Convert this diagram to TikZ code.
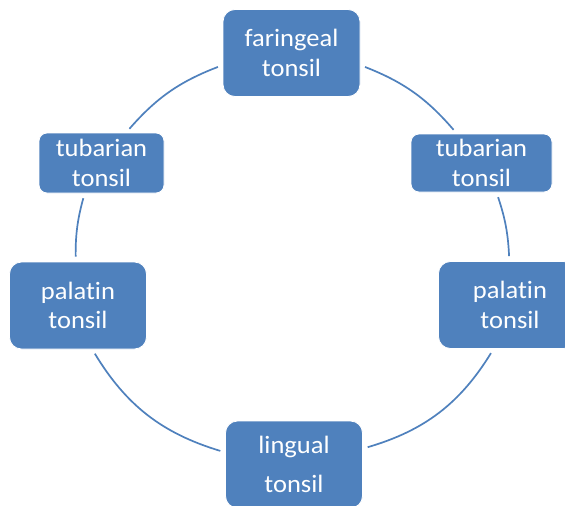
\documentclass[tikz,border=0pt]{standalone}
\usepackage{fontspec}
\newfontfamily\boxfont{Carlito}[FakeStretch=1.06,Ligatures=NoCommon]
\definecolor{smartblue}{HTML}{4F81BD}
\begin{document}
\begin{tikzpicture}[x=1pt,y=-1pt,
  box/.style={fill=smartblue, draw=white, line width=0.8pt, text=white, align=center,
    inner sep=0pt, font=\boxfont\fontsize{25}{29.5}\selectfont},
  bigbox/.style={box, minimum width=137pt, minimum height=87pt, rounded corners=12pt},
  smallbox/.style={box, rounded corners=8pt},
  ring/.style={draw=smartblue, line width=1.7pt, shorten <=5pt, shorten >=5pt}]
\clip (0,0) rectangle (565,506);
\fill[white] (0,0) rectangle (565,506);
\node[bigbox] (far) at (291.5,53) {faringeal\\tonsil};
\node[smallbox, minimum width=125pt, minimum height=60pt] (tubL) at (101.5,163) {tubarian\\tonsil};
\node[smallbox, minimum width=141pt, minimum height=58pt] (tubR) at (481.5,163) {tubarian\\tonsil};
\node[bigbox] (palL) at (78,305.5) {palatin\\tonsil};
\node[bigbox] (palR) at (507,305) {\hspace*{6pt}palatin\\\hspace*{6pt}tonsil};
\node[bigbox] (ling) at (294,464.5) {lingual\\[10pt]tonsil};
\draw[ring] (far.-10) to[bend left=14] (tubR.130);
\draw[ring] (tubR.-63) to[bend left=8] (palR.87);
\draw[ring] (palR.-107) to[bend left=21] (ling.13);
\draw[ring] (ling.170) to[bend left=21] (palL.-72);
\draw[ring] (palL.93) to[bend left=8] (tubL.-119);
\draw[ring] (tubL.51) to[bend left=14] (far.190);
\end{tikzpicture}
\end{document}
